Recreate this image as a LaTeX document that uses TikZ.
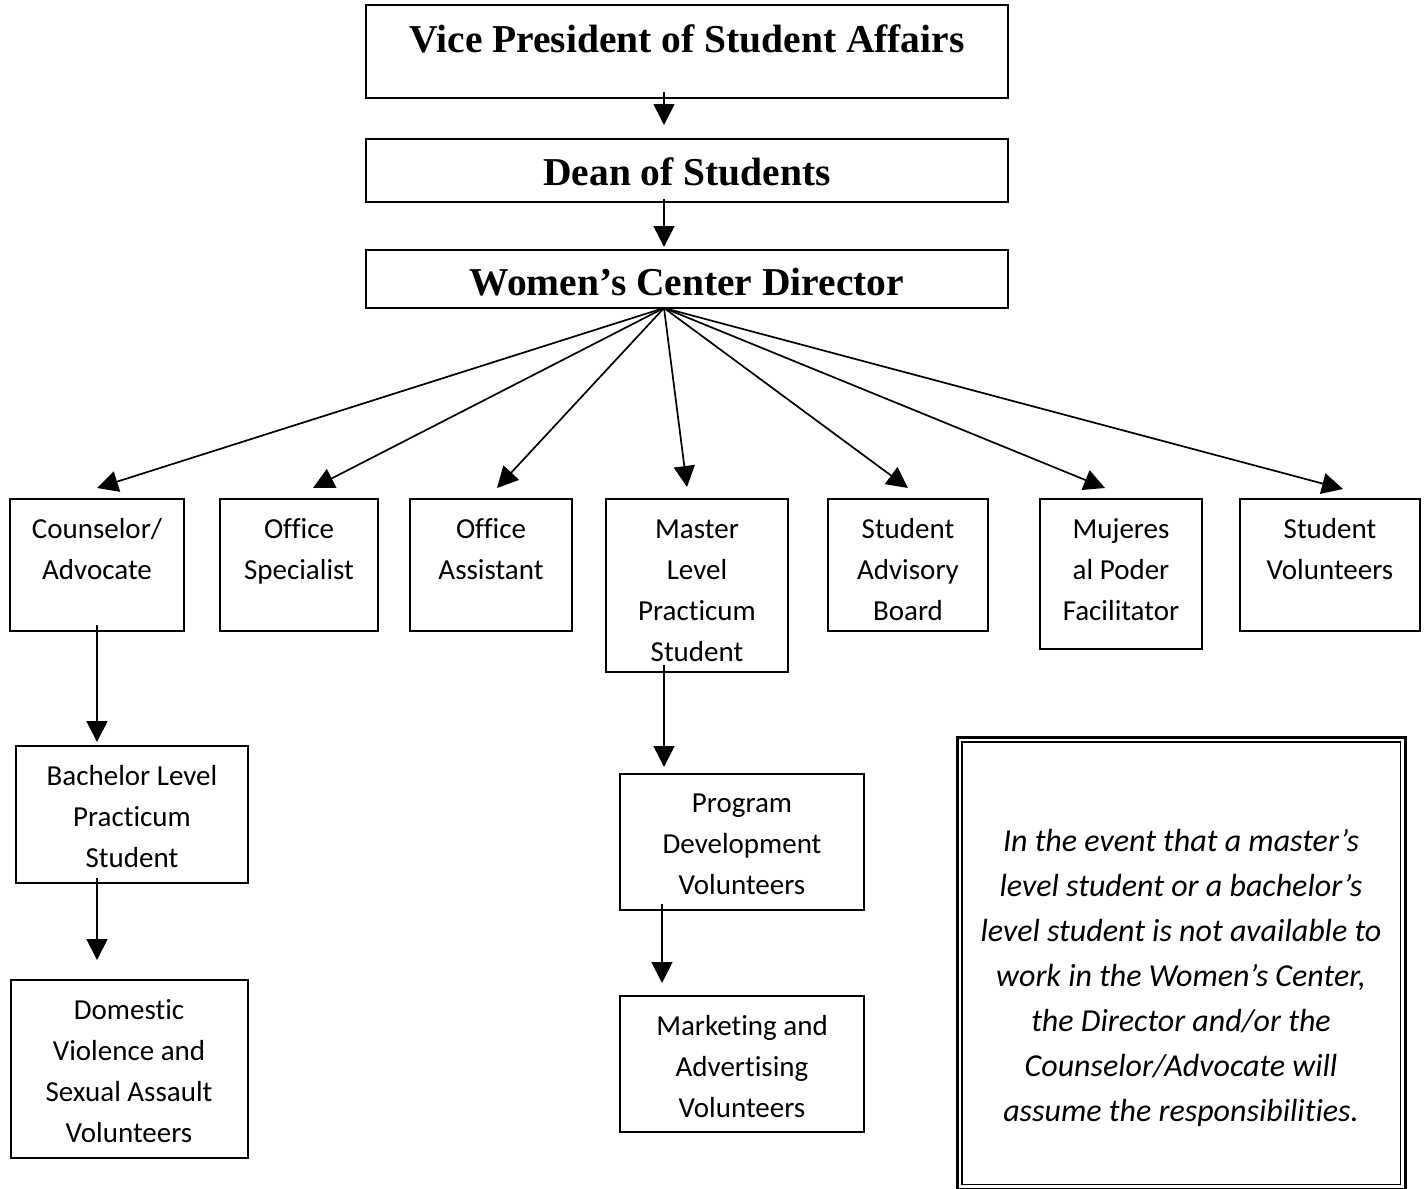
\documentclass[tikz,border=0pt]{standalone}
\usepackage{fontspec}
\setmainfont[RawFeature={-liga}]{Carlito}
\newfontfamily\titlefont{Liberation Serif}
\usetikzlibrary{arrows.meta,calc}
\begin{document}
\begin{tikzpicture}[x=1pt,y=-1pt,
  box/.style={draw,line width=1.7pt,inner sep=0pt,outer sep=0pt,anchor=north west},
  lbl/.style={align=center,inner sep=0pt,anchor=north,font=\fontsize{29}{41}\selectfont},
  ttl/.style={inner sep=0pt,anchor=base,font=\titlefont\bfseries\fontsize{39.5}{46}\selectfont},
  arr/.style={line width=1.7pt,-{Triangle[length=21pt,width=21pt]}}
]
\useasboundingbox (0,0) rectangle (1425,1189);
% top boxes
\node[box,minimum width=642,minimum height=93] (vp) at (366,5) {};
\node[ttl] (vpt) at (687,52) {Vice President of Student Affairs};
\node[box,minimum width=642,minimum height=63] (dean) at (366,139) {};
\node[ttl] (deant) at (687,185) {Dean of Students};
\node[box,minimum width=642,minimum height=58] (dir) at (366,250) {};
\node[ttl] (dirt) at (687,295) {Women’s Center Director};
% second row
\node[box,minimum width=174,minimum height=132] (couns) at (10,499) {};
\node[lbl] at (97,518) {Counselor/\\Advocate};
\node[box,minimum width=158,minimum height=132] (ospec) at (220,499) {};
\node[lbl] at (299,518) {Office\\Specialist};
\node[box,minimum width=162,minimum height=132] (oasst) at (410,499) {};
\node[lbl] at (491,518) {Office\\Assistant};
\node[box,minimum width=182,minimum height=173] (master) at (606,499) {};
\node[lbl] at (697,520) {Master\\Level\\Practicum\\Student};
\node[box,minimum width=160,minimum height=132] (sab) at (828,499) {};
\node[lbl] at (908,518) {Student\\Advisory\\Board};
\node[box,minimum width=162,minimum height=150] (muj) at (1040,499) {};
\node[lbl] at (1121,518) {Mujeres\\al Poder\\Facilitator};
\node[box,minimum width=180,minimum height=132] (svol) at (1240,499) {};
\node[lbl] at (1330,518) {Student\\Volunteers};
% lower boxes
\node[box,minimum width=232,minimum height=137] (bach) at (16,746) {};
\node[lbl] at (132,765) {Bachelor Level\\Practicum\\Student};
\node[box,minimum width=237,minimum height=178] (dom) at (11,980) {};
\node[lbl] at (129,999) {Domestic\\Violence and\\Sexual Assault\\Volunteers};
\node[box,minimum width=244,minimum height=136] (prog) at (620,774) {};
\node[lbl] at (742,794) {Program\\Development\\Volunteers};
\node[box,minimum width=244,minimum height=136] (mkt) at (620,996) {};
\node[lbl] at (742,1015) {Marketing and\\Advertising\\Volunteers};
% note box
\node[draw,line width=2.6pt,inner sep=0pt,anchor=north west,minimum width=448,minimum height=452] (note) at (956,736) {};
\draw[line width=1.2pt] ($(note.north west)+(6,6)$) rectangle ($(note.south east)+(-6,-6)$);
\node[align=center,inner sep=0pt,anchor=north,font=\itshape\fontsize{32}{45}\selectfont] at (1181,829)
 {In the event that a master’s\\level student or a bachelor’s\\level student is not available to\\work in the Women’s Center,\\the Director and/or the\\Counselor/Advocate will\\assume the responsibilities.};
% connectors
\draw[arr] ($(vp.south)+(-23,-6)$) -- ($(dean.north)+(-23,-14)$);
\draw[arr] ($(dean.south)+(-23,-3)$) -- ($(dir.north)+(-23,-3)$);
\coordinate (fan) at ($(dir.south)+(-23,0)$);
\draw[arr] (fan) -- ($(couns.north)+(0,-11)$);
\draw[arr] (fan) -- ($(ospec.north)+(14,-11)$);
\draw[arr] (fan) -- ($(oasst.north)+(6,-11)$);
\draw[arr] (fan) -- ($(master.north)+(-10,-12)$);
\draw[arr] (fan) -- ($(sab.north)+(0,-11)$);
\draw[arr] (fan) -- ($(muj.north)+(-16,-11)$);
\draw[arr] (fan) -- ($(svol.north)+(13,-10)$);
\draw[arr] ($(couns.south)+(0,-6)$) -- ($(bach.north)+(-35,-4)$);
\draw[arr] ($(bach.south)+(-35,-5)$) -- ($(dom.north)+(-32.5,-20)$);
\draw[arr] ($(master.south)+(-33,-7)$) -- ($(prog.north)+(-78,-7)$);
\draw[arr] ($(prog.south)+(-80,-6)$) -- ($(mkt.north)+(-80,-13)$);
\end{tikzpicture}
\end{document}
